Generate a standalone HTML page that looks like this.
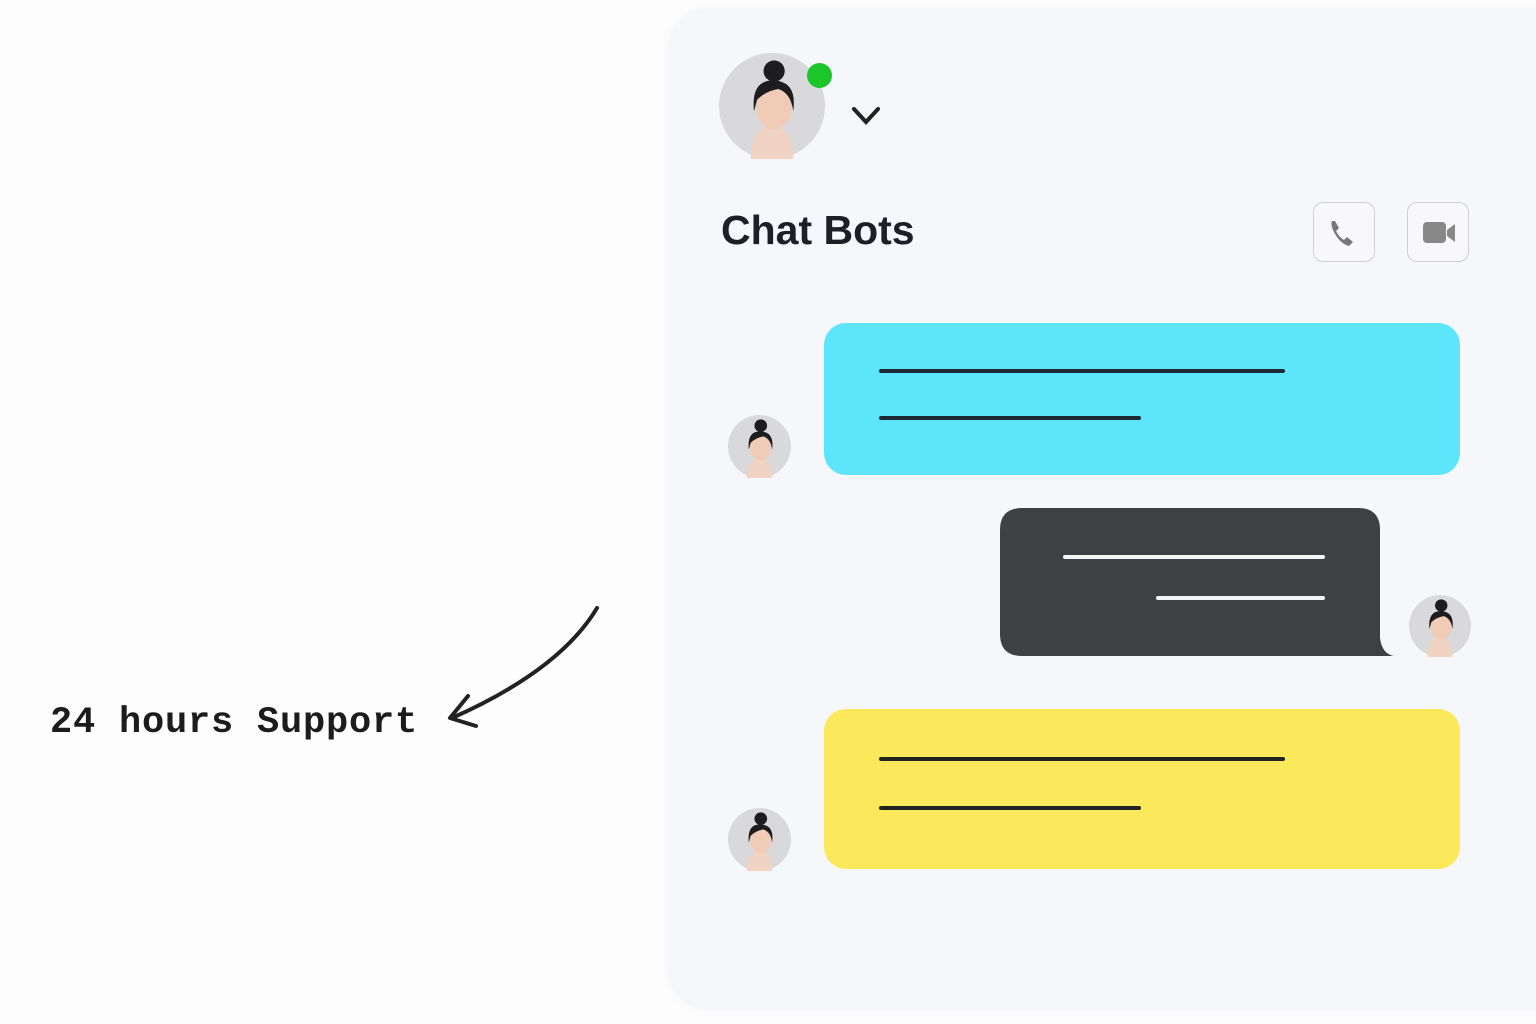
<!DOCTYPE html>
<html><head><meta charset="utf-8"><style>
body{margin:0;width:1536px;height:1024px;background:#fdfdfd;position:relative;overflow:hidden;font-family:"Liberation Sans",sans-serif}
.panel{position:absolute;left:668px;top:8px;width:900px;height:1002px;background:#f6f7fa;border-radius:40px;box-shadow:0 0 12px rgba(0,0,0,0.03)}
.abs{position:absolute}
.bubble{position:absolute;border-radius:22px}
.ln{position:absolute;height:4px;border-radius:2px}
.btn{position:absolute;width:60px;height:58px;border:1.5px solid #cfcfd2;border-radius:10px;background:#f8f8fa}
</style></head><body>
<div class="panel"></div>
<svg class="abs" style="left:0;top:0" width="0" height="0"><defs>
<g id="av"><circle cx="50" cy="50" r="50" fill="#d9d9db"/><path d="M30 100 Q30 70 50 68 Q70 70 70 100Z" fill="#f1d3c4"/><ellipse cx="52" cy="50" rx="17" ry="22" fill="#f0cbb6"/><path d="M33 55 Q30 25 52 26 Q74 27 70 55 Q68 38 56 34 Q44 36 36 44Z" fill="#1d1d1f"/><circle cx="52" cy="17" r="10" fill="#1d1d1f"/></g></defs></svg>
<svg class="abs" style="left:719px;top:53px" width="106" height="106" viewBox="0 0 100 100"><use href="#av"/></svg>
<div class="abs" style="left:807px;top:63px;width:25px;height:25px;border-radius:50%;background:#1cc62a"></div>
<svg class="abs" style="left:850px;top:105px" width="34" height="24"><path d="M4 4 L16 17 L28 4" stroke="#222" stroke-width="4" fill="none" stroke-linecap="round"/></svg>
<div class="abs" style="left:721px;top:207px;font-size:41px;font-weight:bold;color:#1e1f24">Chat Bots</div>
<div class="btn" style="left:1313px;top:202px"><svg width="60" height="58"><path d="M18 18 q-2 4 3 13 q6 10 14 12 l4-4 -6-5 -3 3 q-5-3-8-9 l3-3 -4-7z" fill="#777"/></svg></div>
<div class="btn" style="left:1407px;top:202px"><svg width="60" height="58"><rect x="15" y="19" width="23" height="21" rx="4" fill="#888"/><path d="M39 27 l8-6 v18 l-8-6z" fill="#888"/></svg></div>
<div class="bubble" style="left:824px;top:323px;width:636px;height:152px;background:#5ce5fb"></div>
<div class="ln" style="left:879px;top:369px;width:406px;background:#1d2a33"></div>
<div class="ln" style="left:879px;top:416px;width:262px;background:#1d2a33"></div>
<svg class="abs" style="left:728px;top:415px" width="63" height="63" viewBox="0 0 100 100"><use href="#av"/></svg>
<svg class="abs" style="left:1000px;top:508px" width="396" height="152"><path d="M22 0 H358 Q380 0 380 22 V130 Q382 146 394 148 L360 148 H22 Q0 148 0 126 V22 Q0 0 22 0Z" fill="#3f4043"/></svg>
<div class="ln" style="left:1063px;top:555px;width:262px;background:#f4f4f4"></div>
<div class="ln" style="left:1156px;top:596px;width:169px;background:#f4f4f4"></div>
<svg class="abs" style="left:1409px;top:595px" width="62" height="62" viewBox="0 0 100 100"><use href="#av"/></svg>
<div class="bubble" style="left:824px;top:709px;width:636px;height:160px;background:#fce95b"></div>
<div class="ln" style="left:879px;top:757px;width:406px;background:#222"></div>
<div class="ln" style="left:879px;top:806px;width:262px;background:#222"></div>
<svg class="abs" style="left:728px;top:808px" width="63" height="63" viewBox="0 0 100 100"><use href="#av"/></svg>
<div class="abs" style="left:50px;top:702px;font-family:'Liberation Mono',monospace;font-weight:bold;font-size:37px;color:#1c1c1c;letter-spacing:0.8px">24 hours Support</div>
<svg class="abs" style="left:440px;top:600px" width="170" height="140"><path d="M157 8 Q120 70 12 118" stroke="#222" stroke-width="4" fill="none" stroke-linecap="round"/><path d="M28 96 L10 118 L36 126" stroke="#222" stroke-width="4" fill="none" stroke-linecap="round" stroke-linejoin="round"/></svg>
</body></html>
